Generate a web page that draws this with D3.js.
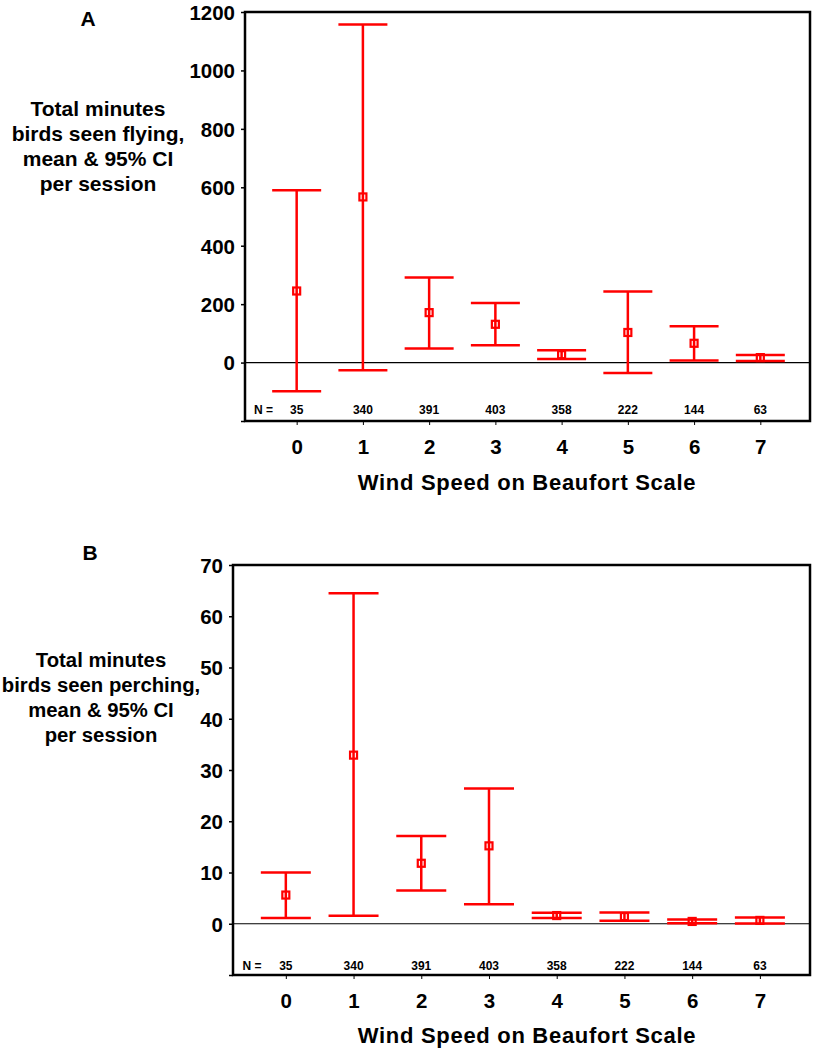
<!DOCTYPE html>
<html>
<head>
<meta charset="utf-8">
<script src="https://cdn.jsdelivr.net/npm/d3@7"></script>
<style>
  html, body { margin: 0; padding: 0; background: #fff; }
  svg text { font-family: "Liberation Sans", Arial, sans-serif; font-weight: bold; fill: #000; }
</style>
</head>
<body>
<svg id="chart" width="814" height="1051"></svg>
<script>
// ---- data ----
const categories = [0, 1, 2, 3, 4, 5, 6, 7];
const sampleN = [35, 340, 391, 403, 358, 222, 144, 63];

const flyMean = [245, 567, 171, 131, 27, 103, 66, 17];
const flyLow  = [-98, -26, 48, 59, 12, -36, 7, 5];
const flyHigh = [590, 1157, 291, 204, 42, 243, 124, 26];

const perchMean = [5.6, 32.9, 11.8, 15.2, 1.6, 1.4, 0.45, 0.65];
const perchLow  = [1.1, 1.56, 6.5, 3.8, 1.1, 0.6, 0.1, 0.05];
const perchHigh = [10.0, 64.5, 17.1, 26.4, 2.15, 2.2, 0.85, 1.2];

const flyTicks = [-200, 0, 200, 400, 600, 800, 1000, 1200];
const perchTicks = [-10, 0, 10, 20, 30, 40, 50, 60, 70];

const xTitle = "Wind Speed on Beaufort Scale";
const flyLabel = ["Total minutes", "birds seen flying,", "mean & 95% CI", "per session"];
const perchLabel = ["Total minutes", "birds seen perching,", "mean & 95% CI", "per session"];

const svg = d3.select("#chart");
const RED = "#ff0000";

function panel(cfg) {
  const g = svg.append("g");
  const x = d3.scaleLinear().domain(cfg.xDomain).range([cfg.left, cfg.right]);
  const y = d3.scaleLinear().domain(cfg.yDomain).range([cfg.bottom, cfg.top]);

  // y axis ticks
  const yAxis = d3.axisLeft(y).tickValues(cfg.yTicks).tickSize(4).tickPadding(6)
    .tickFormat(d => d < 0 ? "" : d);
  const ya = g.append("g").attr("transform", `translate(${cfg.left},0)`).call(yAxis);
  ya.select(".domain").remove();
  ya.selectAll("line").attr("stroke", "#000").attr("stroke-width", 1.5);
  ya.selectAll("text").style("font-size", "20.5px").attr("dy", "0.36em");

  // x axis ticks
  const xAxis = d3.axisBottom(x).tickValues(categories).tickSize(4).tickPadding(14);
  const xa = g.append("g").attr("transform", `translate(0,${cfg.bottom})`).call(xAxis);
  xa.select(".domain").remove();
  xa.selectAll("line").attr("stroke", "#000").attr("stroke-width", 1);
  xa.selectAll("text").style("font-size", "20.5px");

  // zero line
  g.append("line")
    .attr("x1", cfg.left).attr("x2", cfg.right)
    .attr("y1", y(0)).attr("y2", y(0))
    .attr("stroke", "#000").attr("stroke-width", 1.2);

  // error bars
  const data = categories.map((c, i) => ({c, m: cfg.mean[i], lo: cfg.low[i], hi: cfg.high[i], n: sampleN[i]}));
  const bars = g.append("g").selectAll("g").data(data).join("g");
  bars.append("line")
    .attr("x1", d => x(d.c)).attr("x2", d => x(d.c))
    .attr("y1", d => y(d.lo)).attr("y2", d => y(d.hi))
    .attr("stroke", RED).attr("stroke-width", 2.5);
  bars.append("line")
    .attr("x1", d => x(d.c) - cfg.cap).attr("x2", d => x(d.c) + cfg.cap)
    .attr("y1", d => y(d.hi)).attr("y2", d => y(d.hi))
    .attr("stroke", RED).attr("stroke-width", 2.5);
  bars.append("line")
    .attr("x1", d => x(d.c) - cfg.cap).attr("x2", d => x(d.c) + cfg.cap)
    .attr("y1", d => y(d.lo)).attr("y2", d => y(d.lo))
    .attr("stroke", RED).attr("stroke-width", 2.5);
  bars.append("rect")
    .attr("x", d => x(d.c) - 3.5).attr("y", d => y(d.m) - 3.5)
    .attr("width", 7).attr("height", 7)
    .attr("fill", "none").attr("stroke", RED).attr("stroke-width", 2.2);

  // N labels
  g.append("text").attr("x", x(-0.5)).attr("y", cfg.nY)
    .attr("text-anchor", "middle").attr("dy", "0.36em")
    .style("font-size", "12px").text("N =");
  g.append("g").selectAll("text").data(data).join("text")
    .attr("x", d => x(d.c)).attr("y", cfg.nY)
    .attr("text-anchor", "middle").attr("dy", "0.36em")
    .style("font-size", "12px").text(d => d.n);

  // frame
  g.append("rect")
    .attr("x", cfg.left).attr("y", cfg.top)
    .attr("width", cfg.right - cfg.left).attr("height", cfg.bottom - cfg.top)
    .attr("fill", "none").attr("stroke", "#000").attr("stroke-width", 2.5);

  // x title
  g.append("text").attr("x", 527).attr("y", cfg.titleY)
    .attr("text-anchor", "middle").attr("dy", "0.36em")
    .style("font-size", "22px").style("letter-spacing", "0.7px").text(xTitle);

  // y label
  const yl = g.append("text").attr("text-anchor", "middle").style("font-size", cfg.yLabelSize);
  cfg.yLabel.forEach((line, i) => {
    yl.append("tspan").attr("x", cfg.yLabelX).attr("y", cfg.yLabelY + i * 25)
      .attr("dy", "0.36em").text(line);
  });

  // panel letter
  g.append("text").attr("x", cfg.letterX).attr("y", cfg.letterY)
    .attr("text-anchor", "middle").attr("dy", "0.36em")
    .style("font-size", "21px").text(cfg.letter);
}

panel({
  left: 245, right: 810, top: 12, bottom: 421,
  xDomain: [-0.78, 7.75], yDomain: [-200, 1200], yTicks: flyTicks,
  mean: flyMean, low: flyLow, high: flyHigh, cap: 24.5,
  nY: 410, titleY: 482, yLabel: flyLabel, yLabelX: 98, yLabelY: 108, yLabelSize: "21px",
  letter: "A", letterX: 88, letterY: 18
});

panel({
  left: 233, right: 810, top: 565, bottom: 975,
  xDomain: [-0.78, 7.74], yDomain: [-10, 70], yTicks: perchTicks,
  mean: perchMean, low: perchLow, high: perchHigh, cap: 25,
  nY: 966, titleY: 1035, yLabel: perchLabel, yLabelX: 101, yLabelY: 660, yLabelSize: "20.3px",
  letter: "B", letterX: 90, letterY: 552
});
</script>
</body>
</html>
